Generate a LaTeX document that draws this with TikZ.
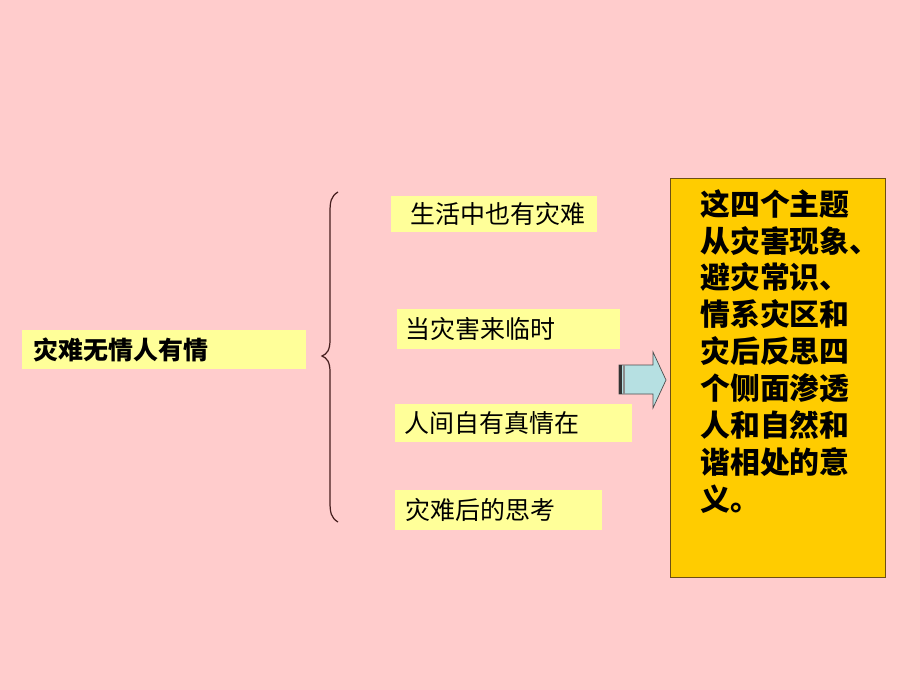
\documentclass[tikz,border=0pt]{standalone}
\usepackage{fontspec}
\newfontfamily\cjk{Noto Sans CJK SC}
\definecolor{pagepink}{RGB}{255,204,204}
\definecolor{boxyellow}{RGB}{255,255,153}
\definecolor{notegold}{RGB}{255,204,0}
\definecolor{noteedge}{RGB}{110,80,20}
\definecolor{arrowblue}{RGB}{182,224,226}
\definecolor{braceink}{RGB}{70,30,30}
\tikzset{
  topic/.style={fill=boxyellow, anchor=north west, inner ysep=0pt, align=left,
    font=\cjk\fontsize{14.2}{16}\selectfont},
}

\begin{document}
\begin{tikzpicture}[x=0.02cm, y=-0.02cm]
\fill[pagepink] (0,0) rectangle (920,690);
\useasboundingbox (0,0) rectangle (920,690);

\node[topic, minimum height=0.78cm, text width=5.24cm, inner xsep=0.22cm,
  font=\cjk\bfseries\fontsize{14.2}{16}\selectfont] (main) at (22,330) {灾难无情人有情};

\node[topic, minimum height=0.72cm, text width=3.36cm, inner xsep=0.38cm] (t1) at (391,196) {生活中也有灾难};
\node[topic, minimum height=0.80cm, text width=4.14cm, inner xsep=0.16cm] (t2) at (397,309) {当灾害来临时};
\node[topic, minimum height=0.76cm, text width=4.38cm, inner xsep=0.18cm] (t3) at (395,404) {人间自有真情在};
\node[topic, minimum height=0.80cm, text width=3.74cm, inner xsep=0.20cm] (t4) at (395,490) {灾难后的思考};

% brace
\draw[braceink, line width=0.7pt] (338,192) .. controls (331,196) and (330,202) .. (330,212)
  -- (330,340) .. controls (330,350) and (327,354) .. (322,356)
  .. controls (327,358) and (330,362) .. (330,372)
  -- (330,502) .. controls (330,512) and (331,518) .. (338,522);

% arrow
\draw[fill=arrowblue, draw=black!70] (619,365) -- (653,365) -- (653,352) -- (666,380)
  -- (653,408) -- (653,394) -- (619,394) -- cycle;
\fill[black!80] (619,365) rectangle (622,394);
\fill[black!45] (623,365) rectangle (625,394);

\node[fill=notegold, draw=noteedge, anchor=north west, minimum width=4.3cm,
  minimum height=7.98cm, inner sep=0pt] (note) at (670,178) {};
\node[anchor=north west, inner sep=0pt, align=left,
  font=\cjk\bfseries\fontsize{17}{21}\selectfont] (notetext) at (700,189)
  {这四个主题\\从灾害现象、\\避灾常识、\\情系灾区和\\灾后反思四\\个侧面渗透\\人和自然和\\谐相处的意\\义。};
\end{tikzpicture}
\end{document}
